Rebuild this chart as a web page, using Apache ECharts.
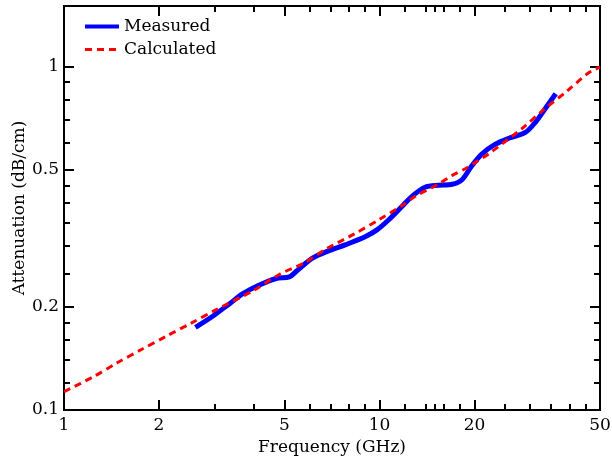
<!DOCTYPE html>
<html>
<head>
<meta charset="utf-8">
<script src="https://cdn.jsdelivr.net/npm/echarts@6/dist/echarts.min.js"></script>
<style>
  html, body { margin: 0; padding: 0; background: #fff; }
  #chart { width: 612px; height: 457px; }
</style>
</head>
<body>
<div id="chart"></div>
<script>
// frequency in GHz, attenuation in dB/cm
var measuredFreq = [2.61, 2.96, 3.35, 3.69, 4.16, 4.70, 5.18, 5.44, 6.13, 6.92, 7.82, 9.04, 9.84, 10.7,
  11.8, 12.7, 14.0, 15.4, 17.0, 18.3, 19.6, 21.1, 23.3, 25.7, 29.0, 31.2, 33.5, 36.2];
var measuredAtt = [0.174, 0.1875, 0.204, 0.218, 0.231, 0.2415, 0.244, 0.253, 0.2766, 0.291, 0.303, 0.320, 0.335, 0.358,
  0.392, 0.4195, 0.4457, 0.451, 0.454, 0.469, 0.5135, 0.556, 0.594, 0.618, 0.643, 0.688, 0.753, 0.833];

var calcFreq = [1, 1.24, 1.47, 1.76, 2.11, 2.53, 3.04, 3.96, 4.81, 5.77, 6.76, 8.3, 9.96, 11.8, 13.0,
  15.4, 17.0, 18.7, 20.6, 22.2, 28.3, 33.5, 39.2, 45.9, 50];
var calcAtt = [0.113, 0.125, 0.137, 0.150, 0.164, 0.179, 0.196, 0.222, 0.248, 0.268, 0.294, 0.325, 0.358, 0.394, 0.419,
  0.455, 0.482, 0.504, 0.533, 0.557, 0.660, 0.755, 0.846, 0.957, 0.995];

var xMajor = [1, 2, 5, 10, 20, 50];
var xMinor = [3, 4, 6, 7, 8, 9, 12, 14, 15, 16, 18, 25, 30, 35, 40, 45];
var yMajor = [0.1, 0.2, 0.5, 1];
var yMinor = [0.12, 0.14, 0.16, 0.18, 0.25, 0.3, 0.35, 0.4, 0.45, 0.6, 0.7, 0.8, 0.9];
var xRange = [1, 50];
var yRange = [0.1, 1.5];

var font = 'DejaVu Serif';

function lg(v) {
  return Math.log10(v);
}

function toPoints(xs, ys) {
  return xs.map(function (x, i) {
    return [lg(x), lg(ys[i])];
  });
}

function tickLabel(v) {
  return String(parseFloat(Math.pow(10, v).toPrecision(3)));
}

// one axis per side and tick size, all sharing the same log10 range
function makeAxis(dim, pos, ticks, len, withLabel, name) {
  var range = dim === 'x' ? xRange : yRange;
  var axis = {
    type: 'value',
    position: pos,
    min: lg(range[0]),
    max: lg(range[1]),
    splitLine: { show: false },
    axisLine: { show: true, onZero: false, lineStyle: { color: '#000', width: 2 } },
    axisTick: {
      show: true,
      inside: true,
      length: len,
      customValues: ticks.map(lg),
      lineStyle: { color: '#000', width: 2 }
    },
    axisLabel: {
      show: withLabel,
      customValues: ticks.map(lg),
      formatter: tickLabel,
      color: '#000',
      fontFamily: font,
      fontSize: 17,
      margin: dim === 'x' ? 7 : 5
    }
  };
  if (name) {
    axis.name = name;
    axis.nameLocation = 'middle';
    axis.nameGap = dim === 'x' ? 29 : 36;
    axis.nameMoveOverlap = false;
    axis.nameTextStyle = { color: '#000', fontFamily: font, fontSize: 17 };
  }
  return axis;
}

var chart = echarts.init(document.getElementById('chart'));

var option = {
  animation: false,
  backgroundColor: '#fff',
  grid: { left: 64, right: 12, top: 6, bottom: 47, outerBoundsMode: 'none' },
  legend: {
    orient: 'vertical',
    left: 78,
    top: 13,
    itemWidth: 34,
    itemHeight: 14,
    itemGap: 6,
    itemStyle: { opacity: 0 },
    textStyle: { color: '#000', fontFamily: font, fontSize: 17 },
    data: [
      { name: 'Measured', lineStyle: { width: 4 } },
      { name: 'Calculated', lineStyle: { width: 3 } }
    ]
  },
  xAxis: [
    makeAxis('x', 'bottom', xMajor, 10, true, 'Frequency (GHz)'),
    makeAxis('x', 'bottom', xMinor, 6, false),
    makeAxis('x', 'top', xMajor, 10, false),
    makeAxis('x', 'top', xMinor, 6, false)
  ],
  yAxis: [
    makeAxis('y', 'left', yMajor, 10, true, 'Attenuation (dB/cm)'),
    makeAxis('y', 'left', yMinor, 6, false),
    makeAxis('y', 'right', yMajor, 10, false),
    makeAxis('y', 'right', yMinor, 6, false)
  ],
  series: [{
    name: 'Measured',
    type: 'line',
    xAxisIndex: 0,
    yAxisIndex: 0,
    showSymbol: false,
    symbol: 'none',
    smooth: 0.3,
    lineStyle: { color: '#0000ff', width: 5 },
    itemStyle: { color: '#0000ff' },
    data: toPoints(measuredFreq, measuredAtt),
    z: 3
  }, {
    name: 'Calculated',
    type: 'line',
    xAxisIndex: 0,
    yAxisIndex: 0,
    showSymbol: false,
    symbol: 'none',
    smooth: 0.3,
    lineStyle: { color: '#ff0000', width: 3, type: [7, 5] },
    itemStyle: { color: '#ff0000' },
    data: toPoints(calcFreq, calcAtt),
    z: 4
  }]
};

chart.setOption(option);
</script>
</body>
</html>
